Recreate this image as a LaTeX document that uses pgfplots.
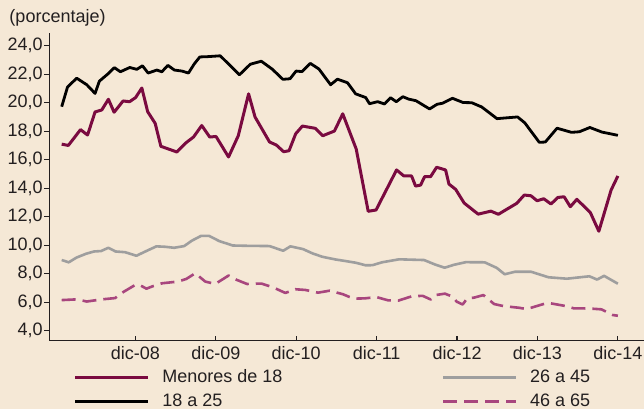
\documentclass[border=0pt]{standalone}
\usepackage{fontspec}
\setmainfont{Liberation Sans}
\usepackage{pgfplots}
\pgfplotsset{compat=1.18}
\definecolor{bg}{RGB}{245,232,214}
\definecolor{crim}{RGB}{122,10,64}
\definecolor{pinkd}{RGB}{168,70,126}
\definecolor{greyl}{RGB}{158,158,158}
\definecolor{axc}{RGB}{35,31,32}
\begin{document}
\fontsize{18}{21}\selectfont
\begin{tikzpicture}
\fill[bg] (-49.3pt,-68.3pt) rectangle (594.7pt,340.7pt);
\path[use as bounding box] (-49.3pt,-68.3pt) rectangle (594.7pt,340.7pt);
\begin{axis}[
  at={(0pt,0pt)}, anchor=south west,
  scale only axis, width=594.7pt, height=307.7pt,
  xmin=-1.85, xmax=86.9, ymin=3.3, ymax=24.89,
  axis x line=bottom, axis y line=left,
  axis line style={-, line width=1.2pt, color=axc},
  xtick align=inside, ytick align=outside,
  major tick length=5pt,
  tick style={line width=1.2pt, color=axc},
  xtick={11,23,35,47,59,71,83},
  xticklabels={dic-08,dic-09,dic-10,dic-11,dic-12,dic-13,dic-14},
  ytick={4,6,8,10,12,14,16,18,20,22,24},
  yticklabels={{4,0},{6,0},{8,0},{10,0},{12,0},{14,0},{16,0},{18,0},{20,0},{22,0},{24,0}},
  every tick label/.append style={font=\fontsize{18}{21}\selectfont, text=axc},
  yticklabel style={xshift=4.5pt},
  clip=false,
  legend columns=2,
  legend cell align=left,
  legend image code/.code={\draw[#1] (0pt,0pt) -- (73pt,0pt);},
  legend style={at={(0.041,-0.0816)}, anchor=north west, draw=none, fill=none,
    inner sep=0pt, column sep=9pt,
    /tikz/every even column/.append style={column sep=156pt},
    nodes={inner sep=3.5pt, text height=13pt, text depth=3.5pt, font=\fontsize{18}{21}\selectfont, text=axc}},
]
\addplot[crim, line width=3pt, line join=round] coordinates {
(0,17.09)(0.99,17.0)(2.81,18.11)(3.86,17.73)(4.98,19.35)(5.98,19.49)(6.97,20.24)(7.82,19.33)(9.16,20.12)(10.13,20.07)(11.03,20.36)(11.96,21.03)(12.83,19.37)(13.95,18.55)(14.8,16.94)(17.19,16.54)(18.5,17.17)(19.67,17.59)(20.9,18.4)(22.09,17.59)(23.03,17.63)(24.9,16.19)(26.35,17.68)(27.89,20.62)(28.85,19.0)(31.02,17.24)(32.03,17.03)(33.12,16.56)(33.93,16.63)(34.92,17.82)(35.92,18.36)(37.86,18.2)(38.95,17.68)(40.7,18.01)(41.94,19.22)(43.95,16.75)(45.74,12.38)(46.91,12.47)(49.97,15.28)(51.06,14.86)(52.21,14.86)(52.81,14.15)(53.56,14.22)(54.16,14.81)(55.05,14.81)(55.95,15.47)(57.29,15.28)(57.79,14.29)(58.79,13.92)(60.06,12.96)(62.15,12.18)(64.05,12.39)(65.17,12.17)(67.91,12.94)(69.03,13.52)(70.03,13.47)(70.94,13.12)(71.94,13.26)(73.02,12.89)(74.04,13.35)(74.98,13.40)(75.9,12.70)(76.88,13.22)(78.89,12.29)(80.16,10.98)(81.99,13.87)(83,14.86)
};
\addlegendentry{Menores de 18}
\addplot[greyl, line width=2.6pt, line join=round] coordinates {
(0,8.96)(1.05,8.80)(2.24,9.14)(3.63,9.40)(4.83,9.56)(5.87,9.59)(6.97,9.82)(8.04,9.56)(9.46,9.51)(11.15,9.26)(12.71,9.61)(14.14,9.92)(15.44,9.89)(16.79,9.82)(18.28,9.94)(19.43,10.32)(20.82,10.66)(22.02,10.65)(23.51,10.29)(25.53,9.98)(27.4,9.96)(31.02,9.94)(33.05,9.61)(34.13,9.92)(36.0,9.73)(37.41,9.43)(38.88,9.19)(40.85,9.0)(42.35,8.89)(43.89,8.77)(45.37,8.59)(46.38,8.60)(47.8,8.80)(50.34,9.01)(54.08,8.96)(55.69,8.65)(57.14,8.42)(58.57,8.63)(60.31,8.81)(63.12,8.80)(64.92,8.41)(66.11,7.96)(67.65,8.14)(70.03,8.14)(72.65,7.75)(75.38,7.65)(78.74,7.82)(79.9,7.59)(80.94,7.85)(83,7.30)
};
\addlegendentry{26 a 45}
\addplot[black, line width=2.8pt, line join=round] coordinates {
(0,19.72)(0.87,21.10)(2.24,21.72)(3.74,21.26)(4.98,20.65)(5.62,21.51)(6.85,22.0)(7.86,22.46)(8.76,22.17)(10.16,22.47)(11.21,22.34)(12.05,22.59)(12.9,22.08)(14.2,22.29)(14.95,22.17)(15.84,22.62)(16.82,22.29)(17.94,22.22)(18.92,22.08)(19.78,22.72)(20.61,23.21)(21.76,23.23)(23.66,23.29)(26.53,21.96)(28.15,22.70)(29.79,22.91)(31.43,22.35)(33.0,21.64)(34.08,21.68)(34.98,22.22)(35.87,22.18)(37.11,22.76)(38.39,22.36)(40.13,21.26)(41.15,21.65)(42.65,21.40)(43.87,20.62)(45.37,20.36)(45.93,19.93)(47.16,20.07)(48.18,19.91)(49.07,20.35)(49.93,20.07)(50.91,20.42)(51.79,20.25)(52.86,20.14)(54.9,19.56)(56.02,19.89)(56.82,19.96)(58.31,20.31)(59.91,20.01)(61.18,20.0)(62.68,19.70)(64.96,18.88)(68.03,19.0)(69.1,18.59)(71.27,17.22)(72.17,17.24)(73.92,18.21)(76.07,17.92)(77.25,17.96)(78.82,18.26)(80.61,17.94)(83,17.71)
};
\addlegendentry{18 a 25}
\addplot[pinkd, line width=2.6pt, line join=round, dash pattern=on 14pt off 7pt] coordinates {
(0,6.15)(2.24,6.20)(3.74,6.05)(5.98,6.20)(7.97,6.29)(9.21,6.72)(11.03,7.23)(11.78,7.17)(12.65,6.95)(13.57,7.12)(14.99,7.33)(17.38,7.45)(18.58,7.63)(19.93,8.03)(21.42,7.45)(22.91,7.28)(24.9,7.87)(26.16,7.56)(27.65,7.28)(29.79,7.31)(31.51,7.05)(33.38,6.65)(34.87,6.91)(36.37,6.86)(38.24,6.67)(40.0,6.81)(41.97,6.56)(43.54,6.25)(45.23,6.27)(46.98,6.36)(48.73,6.13)(50.22,6.11)(52.21,6.41)(53.86,6.45)(55.08,6.19)(55.77,6.50)(57.19,6.60)(58.34,6.39)(58.94,6.04)(59.84,5.84)(60.51,6.27)(61.52,6.32)(62.93,6.50)(64.54,5.87)(65.92,5.73)(68.25,5.61)(69.4,5.52)(72.24,5.92)(72.99,5.92)(75.23,5.73)(76.43,5.57)(78.74,5.56)(80.54,5.50)(82.26,5.10)(83,5.05)
};
\addlegendentry{46 a 65}
\end{axis}
\node[anchor=base west, inner sep=0pt, text=axc] at (-40pt,318pt) {(porcentaje)};
\end{tikzpicture}
\end{document}
